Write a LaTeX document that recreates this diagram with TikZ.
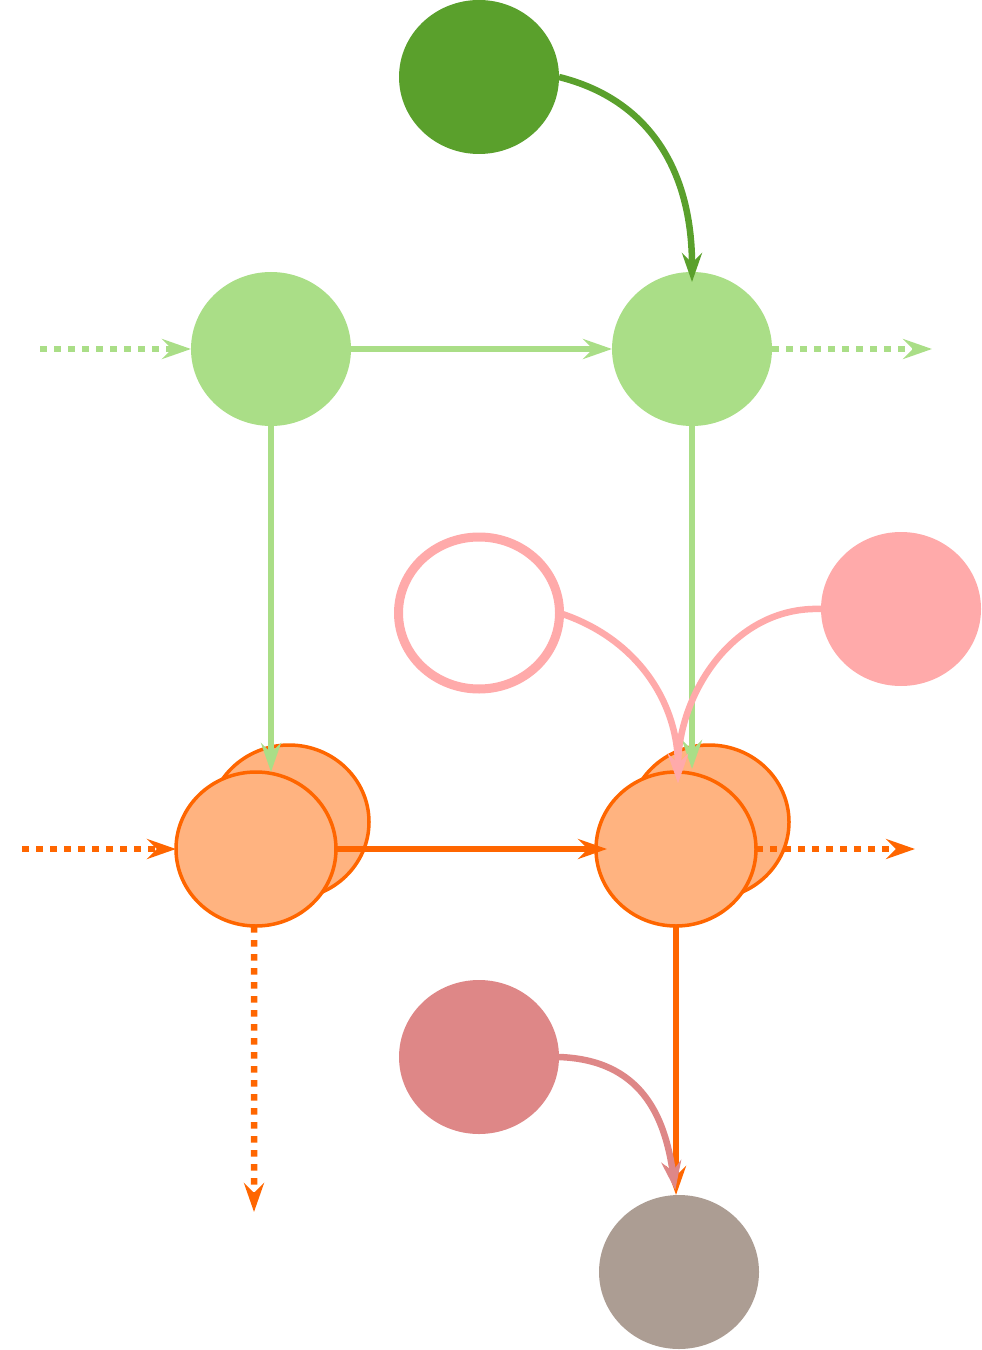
\documentclass[tikz,border=0pt]{standalone}
\usepackage{tikz}
\usetikzlibrary{positioning,calc,shapes.geometric,arrows.meta}
\definecolor{leafdark}{HTML}{5AA02C}
\definecolor{leaflight}{HTML}{AADE87}
\definecolor{rosepale}{HTML}{FFAAAA}
\definecolor{rosedeep}{HTML}{DE8787}
\definecolor{peach}{HTML}{FFB380}
\definecolor{tangerine}{HTML}{FF6600}
\definecolor{taupe}{HTML}{AC9D93}

\begin{document}
\begin{tikzpicture} [every node/.style={ellipse,inner sep=0pt,outer sep=0pt,minimum width=3.2cm,minimum height=3.08cm},]

\tikzstyle{link}=[line width=0.13cm,-{Stealth[length=0.58cm,width=0.4cm,inset=0.2cm]}]
\tikzstyle{dotlink}=[link,dash pattern=on 0.13cm off 0.15cm]
\tikzstyle{cell}=[fill=peach,draw=tangerine,line width=0.07cm]

\useasboundingbox (0,0) rectangle (19.64,-27);

% top row
\node (seed) [fill=leafdark] at (9.58,-1.54) {};
\node (left) [fill=leaflight] at (5.42,-6.98) {};
\node (right) [fill=leaflight] at (13.84,-6.98) {};

% pink sources
\node (hollow) [draw=rosepale,fill=white,line width=0.18cm,minimum width=3.22cm,minimum height=3.04cm] at (9.58,-12.26) {};
\node (blush) [fill=rosepale] at (18.02,-12.18) {};

% stacked orange cells
\node (leftback) [cell] at (5.78,-16.44) {};
\node (leftcell) [cell] at (5.12,-16.98) {};
\node (rightback) [cell] at (14.18,-16.44) {};
\node (rightcell) [cell] at (13.52,-16.98) {};

% bottom
\node (rose) [fill=rosedeep] at (9.58,-21.14) {};
\node (sink) [fill=taupe] at (13.58,-25.44) {};

\coordinate (greenin) at (0.8,-6.98);
\coordinate (greenout) at (18.64,-6.98);
\coordinate (orangein) at (0.44,-16.98);
\coordinate (orangeout) at (18.3,-16.98);
\coordinate (orangedown) at (5.08,-24.24);
\coordinate (pinkhit) at (13.56,-15.66);

% green links
\draw [link,leafdark,shorten >=-0.2cm] (seed.east) to[out=-14,in=90,looseness=1.05] (right.north);
\draw [dotlink,leaflight] (greenin) -- (left.west);
\draw [link,leaflight] (left.east) -- (right.west);
\draw [dotlink,leaflight] (right.east) -- (greenout);
\draw [link,leaflight] (left.south) -- (left.south |- leftcell.north);
\draw [link,leaflight,shorten >=0.06cm] (right.south) -- (right.south |- rightcell.north);

% pink links
\draw [link,rosepale] (hollow.east) to[out=-18,in=90] (pinkhit);
\draw [link,rosepale] (blush.west) to[out=178,in=90] (pinkhit);

% orange links
\draw [dotlink,tangerine] (orangein) -- (leftcell.west);
\draw [link,tangerine,shorten >=-0.22cm] (leftcell.east) -- (rightcell.west);
\draw [dotlink,tangerine] (rightcell.east) -- (orangeout);
\draw [dotlink,tangerine] ([xshift=-0.04cm]leftcell.south) -- (orangedown);
\draw [link,tangerine] (rightcell.south) -- (rightcell.south |- sink.north);

\draw [link,rosedeep,shorten >=0.1cm] (rose.east) to[out=-2,in=98,looseness=1.15] (rightcell.south |- sink.north);

\end{tikzpicture}
\end{document}
